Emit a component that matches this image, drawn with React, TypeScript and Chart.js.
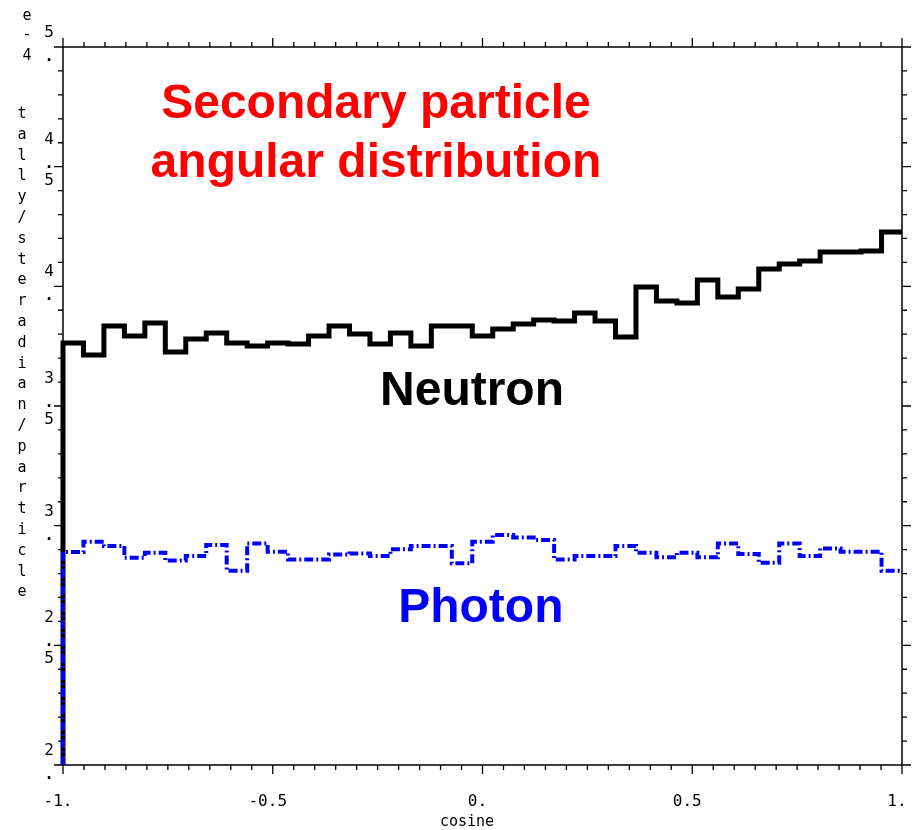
import React, { useEffect, useRef } from "react";
import { Chart, registerables } from "chart.js";

Chart.register(...registerables);

// Cosine bin edges (41 equal bins from -1 to 1)
const BIN_EDGES = [
  -1, -0.95122, -0.90244, -0.85366, -0.80488, -0.7561, -0.70732, -0.65854, -0.60976, -0.56098,
  -0.5122, -0.46341, -0.41463, -0.36585, -0.31707, -0.26829, -0.21951, -0.17073, -0.12195, -0.07317,
  -0.02439, 0.02439, 0.07317, 0.12195, 0.17073, 0.21951, 0.26829, 0.31707, 0.36585, 0.41463,
  0.46341, 0.5122, 0.56098, 0.60976, 0.65854, 0.70732, 0.7561, 0.80488, 0.85366, 0.90244,
  0.95122, 1,
];

// tally / steradian / particle, in units of 1e-4
const NEUTRON = [
  3.763, 3.713, 3.834, 3.792, 3.847, 3.726, 3.78, 3.805, 3.763, 3.751,
  3.763, 3.759, 3.792, 3.834, 3.801, 3.759, 3.805, 3.751, 3.834, 3.834,
  3.792, 3.822, 3.843, 3.859, 3.855, 3.889, 3.855, 3.788, 3.997, 3.939,
  3.93, 4.026, 3.955, 3.989, 4.072, 4.093, 4.106, 4.143, 4.143, 4.148, 4.227,
];

const PHOTON = [
  2.89, 2.933, 2.915, 2.866, 2.887, 2.854, 2.873, 2.919, 2.812, 2.926,
  2.891, 2.859, 2.859, 2.88, 2.884, 2.873, 2.901, 2.915, 2.915, 2.843,
  2.933, 2.961, 2.951, 2.94, 2.859, 2.873, 2.873, 2.915, 2.887, 2.868,
  2.887, 2.868, 2.926, 2.882, 2.845, 2.926, 2.873, 2.905, 2.891, 2.891, 2.812,
];

const X_MIN = -1;
const X_MAX = 1;
const Y_MIN = 2;
const Y_MAX = 5;
const X_MINOR_STEP = 0.05;
const Y_MINOR_STEP = 0.1;
const X_TICK_VALUES = [-1, -0.5, 0, 0.5, 1];
const X_TICK_LABELS = ["-1.", "-0.5", "0.", "0.5", "1."];
const Y_TICK_VALUES = [2, 2.5, 3, 3.5, 4, 4.5, 5];
const Y_TICK_LABELS = ["2.", "2.5", "3.", "3.5", "4.", "4.5", "5."];
const Y_EXPONENT = "e-4";
const X_TITLE = "cosine";
const Y_TITLE = "tally/steradian/particle";
const TITLE_LINES = ["Secondary particle", "angular distribution"];
const NEUTRON_LABEL = "Neutron";
const PHOTON_LABEL = "Photon";

// annotation anchors in data coordinates
const TITLE_POS = { x: -0.254, y: [4.703, 4.457] };
const NEUTRON_POS = { x: -0.025, y: 3.504 };
const PHOTON_POS = { x: -0.004, y: 2.597 };

const MONO = "'DejaVu Sans Mono', monospace";
const SANS_BOLD = "bold 48px 'Liberation Sans', Arial, sans-serif";

function toSteps(edges: number[], vals: number[]) {
  const pts = [{ x: edges[0], y: Y_MIN }];
  vals.forEach((v, i) => pts.push({ x: edges[i], y: v }));
  pts.push({ x: edges[edges.length - 1], y: vals[vals.length - 1] });
  return pts;
}

const mcnpAxes = {
  id: "mcnpAxes",
  beforeDatasetsDraw(chart: any) {
    const { ctx, chartArea: a, scales } = chart;
    const x = scales.x;
    const y = scales.y;
    ctx.save();
    ctx.strokeStyle = "#000";
    ctx.lineWidth = 1.5;
    ctx.strokeRect(a.left, a.top, a.right - a.left, a.bottom - a.top);
    ctx.lineWidth = 1.3;
    ctx.beginPath();
    const nx = Math.round((X_MAX - X_MIN) / X_MINOR_STEP);
    for (let i = 0; i <= nx; i++) {
      const v = X_MIN + i * X_MINOR_STEP;
      const px = x.getPixelForValue(v);
      const major = i % 10 === 0;
      const len = major ? 9 : 5;
      ctx.moveTo(px, a.bottom);
      ctx.lineTo(px, a.bottom + len);
      ctx.moveTo(px, a.top);
      ctx.lineTo(px, a.top - len);
    }
    const ny = Math.round((Y_MAX - Y_MIN) / Y_MINOR_STEP);
    for (let i = 0; i <= ny; i++) {
      const v = Y_MIN + i * Y_MINOR_STEP;
      const py = y.getPixelForValue(v);
      const major = i % 5 === 0;
      const len = major ? 9 : 5;
      ctx.moveTo(a.left, py);
      ctx.lineTo(a.left - len, py);
      ctx.moveTo(a.right, py);
      ctx.lineTo(a.right + len, py);
    }
    ctx.stroke();
    ctx.restore();
  },
  afterDraw(chart: any) {
    const { ctx, chartArea: a, scales } = chart;
    const x = scales.x;
    const y = scales.y;
    ctx.save();
    ctx.fillStyle = "#000";
    // x tick labels
    ctx.font = `16px ${MONO}`;
    ctx.textAlign = "center";
    ctx.textBaseline = "middle";
    X_TICK_VALUES.forEach((v, i) => {
      ctx.fillText(X_TICK_LABELS[i], x.getPixelForValue(v) - 5, a.bottom + 37);
    });
    // y tick labels (characters stacked vertically)
    Y_TICK_VALUES.forEach((v, i) => {
      const py = y.getPixelForValue(v);
      const chars = Y_TICK_LABELS[i].split("");
      const lx = a.left - 14;
      if (chars.length === 2) {
        ctx.font = `16px ${MONO}`;
        ctx.textBaseline = "middle";
        ctx.fillText(chars[0], lx, py - 14);
        ctx.font = `bold 16px ${MONO}`;
        ctx.textBaseline = "alphabetic";
        ctx.fillText(chars[1], lx, py + 14);
      } else {
        ctx.font = `16px ${MONO}`;
        ctx.textBaseline = "middle";
        ctx.fillText(chars[0], lx, py - 27);
        ctx.font = `bold 16px ${MONO}`;
        ctx.textBaseline = "alphabetic";
        ctx.fillText(chars[1], lx, py + 1);
        ctx.font = `16px ${MONO}`;
        ctx.textBaseline = "middle";
        ctx.fillText(chars[2], lx, py + 14);
      }
    });
    // x title
    ctx.font = `15px ${MONO}`;
    ctx.textBaseline = "middle";
    ctx.fillText(X_TITLE, 467, a.bottom + 57);
    // y exponent & title, vertical stacked
    ctx.textBaseline = "alphabetic";
    const expBase = [20, 39, 60];
    Y_EXPONENT.split("").forEach((c, i) => ctx.fillText(c, 27, expBase[i]));
    Y_TITLE.split("").forEach((c, i) => ctx.fillText(c, 22, 118 + i * 20.8));
    // annotations
    ctx.font = SANS_BOLD;
    ctx.textAlign = "center";
    ctx.textBaseline = "alphabetic";
    ctx.fillStyle = "#ff0000";
    TITLE_LINES.forEach((t, i) => {
      ctx.fillText(t, x.getPixelForValue(TITLE_POS.x), y.getPixelForValue(TITLE_POS.y[i]));
    });
    ctx.fillStyle = "#000000";
    ctx.fillText(NEUTRON_LABEL, x.getPixelForValue(NEUTRON_POS.x), y.getPixelForValue(NEUTRON_POS.y));
    ctx.fillStyle = "#0000ff";
    ctx.fillText(PHOTON_LABEL, x.getPixelForValue(PHOTON_POS.x), y.getPixelForValue(PHOTON_POS.y));
    ctx.restore();
  },
};

export default function App() {
  const ref = useRef<HTMLCanvasElement>(null);
  useEffect(() => {
    document.body.style.margin = "0";
    const chart = new Chart(ref.current as HTMLCanvasElement, {
      type: "line",
      data: {
        datasets: [
          {
            label: PHOTON_LABEL,
            data: toSteps(BIN_EDGES, PHOTON),
            borderColor: "#0000ff",
            borderWidth: 4,
            borderDash: [9, 3, 2, 3],
            borderCapStyle: "butt",
            borderJoinStyle: "miter",
            stepped: true,
            pointRadius: 0,
            fill: false,
            clip: 5,
          } as any,
          {
            label: NEUTRON_LABEL,
            data: toSteps(BIN_EDGES, NEUTRON),
            borderColor: "#000000",
            borderWidth: 5,
            borderCapStyle: "butt",
            borderJoinStyle: "miter",
            stepped: true,
            pointRadius: 0,
            fill: false,
            clip: 5,
          } as any,
        ],
      },
      options: {
        responsive: false,
        animation: false,
        devicePixelRatio: 1,
        layout: { padding: { left: 63, top: 47, right: 15, bottom: 65 } },
        scales: {
          x: { type: "linear", min: X_MIN, max: X_MAX, display: false },
          y: { type: "linear", min: Y_MIN, max: Y_MAX, display: false },
        },
        plugins: {
          legend: { display: false },
          tooltip: { enabled: false },
        },
      },
      plugins: [mcnpAxes],
    });
    return () => chart.destroy();
  }, []);
  return (
    <div style={{ width: 917, height: 830 }}>
      <canvas ref={ref} width={917} height={830} style={{ display: "block" }} />
    </div>
  );
}
